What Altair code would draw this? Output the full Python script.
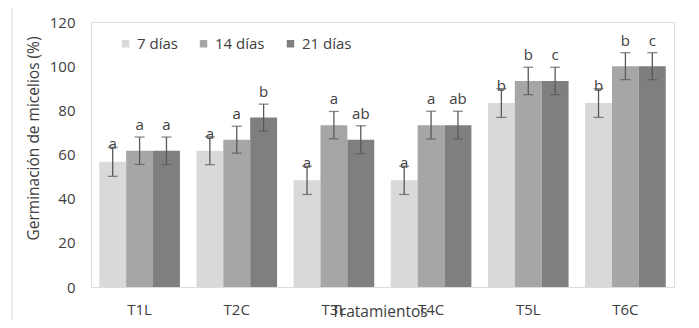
import altair as alt
import pandas as pd

tratamientos = ["T1L", "T2C", "T3L", "T4C", "T5L", "T6C"]
series = ["7 días", "14 días", "21 días"]
v7 = [56.7, 61.7, 48.3, 48.3, 83.3, 83.3]
v14 = [61.7, 66.7, 73.3, 73.3, 93.3, 100.0]
v21 = [61.7, 76.7, 66.7, 73.3, 93.3, 100.0]
e7 = [6.6, 6.3, 6.4, 6.4, 6.5, 6.5]
e14 = [6.2, 6.1, 6.2, 6.3, 6.2, 6.1]
e21 = [6.2, 6.1, 6.3, 6.3, 6.2, 6.1]
l7 = ["a", "a", "a", "a", "b", "b"]
l14 = ["a", "a", "a", "a", "b", "b"]
l21 = ["a", "b", "ab", "ab", "c", "c"]
y_ticks = [0, 20, 40, 60, 80, 100, 120]
colors = ["#d9d9d9", "#a6a6a6", "#7f7f7f"]

rows = []
for s, vals, errs, labs in zip(series, [v7, v14, v21], [e7, e14, e21], [l7, l14, l21]):
    for t, v, e, l in zip(tratamientos, vals, errs, labs):
        rows.append({"trat": t, "serie": s, "valor": v, "lo": v - e, "hi": v + e, "letra": l})
df = pd.DataFrame(rows)

FONT = "Open Sans"
TXT = "#404040"
FS = 15

x_enc = alt.X("trat:N", sort=tratamientos,
              scale=alt.Scale(paddingInner=0.17, paddingOuter=0.085),
              axis=alt.Axis(title="Tratamientos", labelAngle=0, ticks=False, tickSize=0,
                            domain=False, labelPadding=15, labelFontSize=FS,
                            labelColor=TXT, titleFontSize=15.5, titleColor=TXT,
                            titleFontWeight="normal", titleY=29, titleX=288,
                            titleBaseline="alphabetic", labelFont=FONT, titleFont=FONT))
xo_enc = alt.XOffset("serie:N", sort=series)

base = alt.Chart(df)

bars = base.mark_bar().encode(
    x=x_enc,
    xOffset=xo_enc,
    y=alt.Y("valor:Q",
            scale=alt.Scale(domain=[0, 120], nice=False),
            axis=alt.Axis(values=y_ticks, title="Germinación de micelios (%)", grid=False,
                          ticks=False, tickSize=0, domain=False, labelPadding=16,
                          labelFontSize=FS, labelColor=TXT, titleFontSize=15.5,
                          titleColor=TXT, titleFontWeight="normal", titleX=-57.5,
                          titleY=116, titleBaseline="middle", labelFont=FONT,
                          titleFont=FONT)),
    color=alt.Color("serie:N", sort=series,
                    scale=alt.Scale(domain=series, range=colors),
                    legend=alt.Legend(title=None, orient="none", legendX=27, legendY=14,
                                      direction="horizontal", symbolType="square",
                                      symbolSize=56, symbolStrokeWidth=0,
                                      labelFontSize=FS, labelFont=FONT, labelColor=TXT,
                                      columnPadding=18, labelOffset=4)),
)

txt7 = base.transform_filter(alt.datum.serie == "7 días").mark_text(
    baseline="alphabetic", dy=2, fontSize=FS, font=FONT, color=TXT
).encode(x=alt.X("trat:N", sort=tratamientos), xOffset=xo_enc, y="hi:Q", text="letra:N")

txt_other = base.transform_filter(alt.datum.serie != "7 días").mark_text(
    baseline="alphabetic", dy=-7, fontSize=FS, font=FONT, color=TXT
).encode(x=alt.X("trat:N", sort=tratamientos), xOffset=xo_enc, y="hi:Q", text="letra:N")

rules = base.mark_rule(color="#595959", strokeWidth=1.3).encode(
    x=alt.X("trat:N", sort=tratamientos), xOffset=xo_enc, y="lo:Q", y2="hi:Q")

caps_hi = base.mark_tick(color="#595959", thickness=1.3, size=10).encode(
    x=alt.X("trat:N", sort=tratamientos), xOffset=xo_enc, y="hi:Q")
caps_lo = base.mark_tick(color="#595959", thickness=1.3, size=10).encode(
    x=alt.X("trat:N", sort=tratamientos), xOffset=xo_enc, y="lo:Q")

frame = alt.Chart(pd.DataFrame({"k": [0]})).mark_rect(
    fill=None, stroke="#d9d9d9", strokeWidth=1
).encode(x=alt.value(-79), x2=alt.value(605), y=alt.value(-16), y2=alt.value(330))

chart = alt.layer(frame, bars, txt7, txt_other, rules, caps_hi, caps_lo).properties(
    width=583, height=265,
    padding={"left": 83, "top": 14, "right": 17, "bottom": 33},
    autosize=alt.AutoSizeParams(type="none"),
).configure_view(stroke="#a0a0a0", strokeWidth=1).configure(background="white")

chart.save("out.html", embed_options={"renderer": "svg", "actions": False})
